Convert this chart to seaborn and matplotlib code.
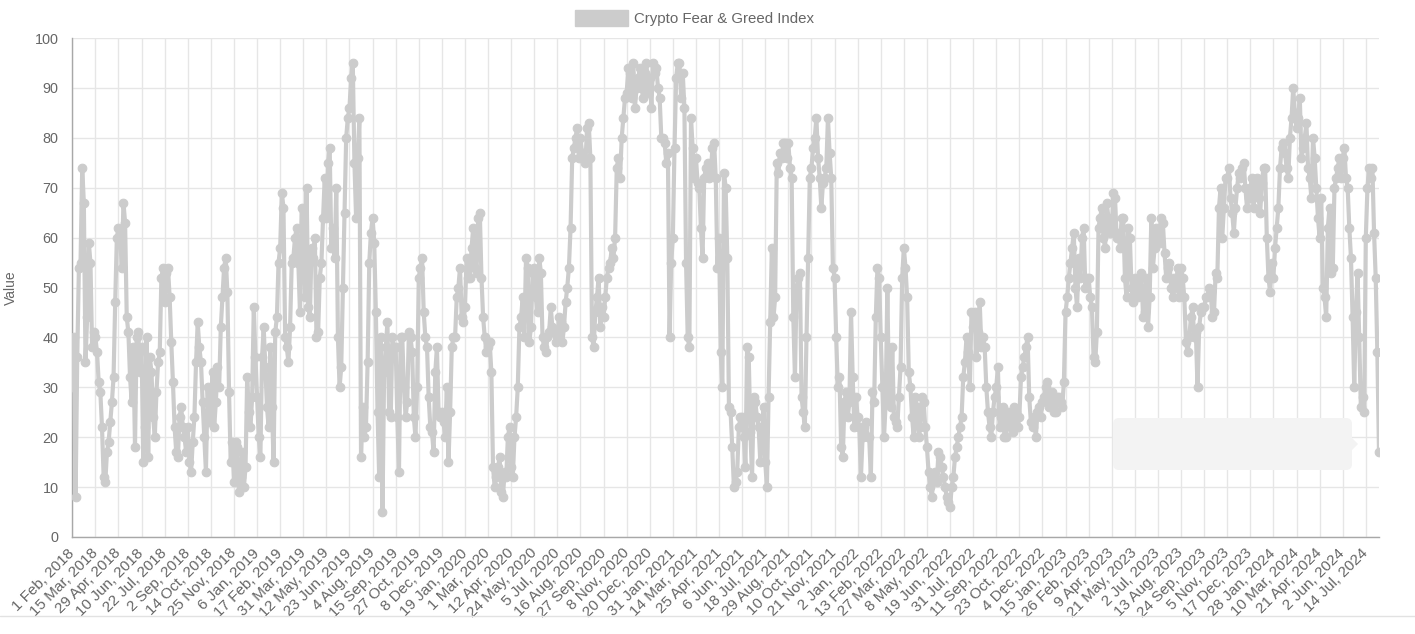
import numpy as np
import pandas as pd
import seaborn as sns
import matplotlib
matplotlib.use("Agg")
import matplotlib.pyplot as plt
from matplotlib.patches import FancyBboxPatch, Polygon, Patch
from matplotlib.lines import Line2D
from matplotlib.transforms import IdentityTransform

# rótulos do eixo x (um a cada 42 pontos diários)
tick_labels = [
    "1 Feb, 2018", "15 Mar, 2018", "29 Apr, 2018", "10 Jun, 2018", "22 Jul, 2018",
    "2 Sep, 2018", "14 Oct, 2018", "25 Nov, 2018", "6 Jan, 2019", "17 Feb, 2019",
    "31 Mar, 2019", "12 May, 2019", "23 Jun, 2019", "4 Aug, 2019", "15 Sep, 2019",
    "27 Oct, 2019", "8 Dec, 2019", "19 Jan, 2020", "1 Mar, 2020", "12 Apr, 2020",
    "24 May, 2020", "5 Jul, 2020", "16 Aug, 2020", "27 Sep, 2020", "8 Nov, 2020",
    "20 Dec, 2020", "31 Jan, 2021", "14 Mar, 2021", "25 Apr, 2021", "6 Jun, 2021",
    "18 Jul, 2021", "29 Aug, 2021", "10 Oct, 2021", "21 Nov, 2021", "2 Jan, 2022",
    "13 Feb, 2022", "27 Mar, 2022", "8 May, 2022", "19 Jun, 2022", "31 Jul, 2022",
    "11 Sep, 2022", "23 Oct, 2022", "4 Dec, 2022", "15 Jan, 2023", "26 Feb, 2023",
    "9 Apr, 2023", "21 May, 2023", "2 Jul, 2023", "13 Aug, 2023", "24 Sep, 2023",
    "5 Nov, 2023", "17 Dec, 2023", "28 Jan, 2024", "10 Mar, 2024", "21 Apr, 2024",
    "2 Jun, 2024", "14 Jul, 2024",
]

# valores, um a cada 3 dias (14 por intervalo de rótulo)
fg_2018 = [30, 40, 8, 36, 54, 55, 74, 67, 35, 44, 59, 55, 38, 41,
           40, 37, 31, 29, 22, 12, 11, 17, 19, 23, 27, 32, 47, 60,
           62, 60, 54, 67, 63, 44, 41, 32, 27, 38, 18, 40, 41, 33,
           38, 15, 22, 40, 16, 36, 33, 24, 20, 29, 35, 37, 52, 54,
           47, 53, 54, 48, 39, 31, 22, 17, 16, 24, 26, 22, 20, 17,
           22, 15, 13, 19, 24, 35, 43, 38, 35, 27, 20, 13, 30, 23,
           25, 33, 22, 27, 34, 30, 42, 48, 54, 56, 49, 29, 15, 19,
           11, 19, 18, 9, 12, 17, 10, 14, 32, 25, 22, 28, 46, 36]
fg_2019 = [28, 20, 16, 36, 42, 34, 26, 22, 38, 26, 15, 41, 44, 55,
           58, 69, 66, 40, 38, 35, 42, 55, 56, 60, 62, 55, 45, 66,
           62, 48, 70, 46, 44, 58, 56, 60, 40, 41, 52, 55, 64, 72,
           64, 75, 78, 58, 62, 56, 70, 40, 30, 34, 50, 65, 80, 84,
           86, 92, 95, 75, 64, 76, 84, 16, 26, 20, 22, 35, 55, 61,
           64, 59, 45, 25, 12, 40, 5, 33, 38, 43, 25, 24, 40, 38,
           38, 24, 13, 40, 40, 30, 24, 27, 41, 40, 37, 24, 20, 30,
           52, 54, 56, 45, 40, 38, 28, 22, 21, 17, 33, 38, 25, 24,
           25, 23, 20, 30, 15, 25, 38, 40, 40, 48, 50, 54, 44, 43]
fg_2020 = [46, 56, 52, 52, 58, 62, 54, 53, 64, 65, 52, 44, 40, 37,
           38, 39, 33, 14, 10, 12, 14, 16, 9, 8, 13, 12, 20, 22,
           14, 12, 20, 24, 30, 42, 44, 48, 40, 56, 54, 39, 42, 53,
           54, 48, 45, 56, 53, 40, 38, 37, 40, 41, 46, 42, 41, 39,
           40, 44, 43, 39, 42, 47, 50, 54, 62, 76, 78, 80, 82, 76,
           80, 77, 76, 75, 82, 83, 76, 40, 38, 45, 48, 52, 42, 46,
           44, 48, 52, 54, 55, 58, 56, 60, 74, 76, 72, 80, 84, 88,
           89, 94, 93, 88, 95, 86, 90, 92, 94, 90, 88, 93, 95, 89,
           92, 86, 95, 93, 94, 90, 88, 80, 80, 79, 75, 77, 40, 55]
fg_2021 = [60, 78, 92, 95, 95, 88, 93, 86, 55, 40, 38, 84, 78, 72,
           76, 71, 70, 62, 56, 72, 74, 75, 72, 73, 78, 79, 72, 54,
           60, 37, 30, 73, 70, 56, 26, 25, 18, 10, 11, 13, 22, 24,
           24, 20, 14, 38, 36, 21, 12, 28, 27, 24, 22, 15, 20, 26,
           15, 10, 28, 43, 58, 44, 48, 75, 73, 77, 76, 79, 79, 76,
           79, 74, 72, 44, 32, 50, 52, 53, 28, 25, 22, 40, 56, 72,
           74, 78, 80, 84, 76, 72, 66, 71, 72, 74, 84, 77, 72, 54,
           52, 40, 30, 32, 18, 16, 27, 29, 24, 27, 45, 32, 22, 28]
fg_2022 = [24, 22, 12, 20, 22, 23, 20, 20, 12, 29, 27, 44, 54, 52,
           40, 30, 20, 27, 50, 28, 26, 38, 24, 23, 22, 28, 34, 52,
           58, 54, 48, 33, 30, 24, 20, 28, 26, 20, 22, 28, 27, 22,
           18, 13, 10, 8, 12, 13, 11, 17, 16, 14, 12, 10, 8, 7,
           6, 10, 12, 16, 18, 20, 22, 24, 32, 35, 40, 37, 30, 45,
           42, 45, 36, 41, 47, 38, 40, 38, 30, 25, 22, 20, 25, 28,
           30, 34, 22, 24, 26, 20, 20, 25, 24, 22, 21, 26, 25, 22,
           24, 32, 34, 36, 38, 40, 28, 23, 22, 24, 20, 25, 26, 24,
           27, 28, 30, 31, 26, 27, 29, 25, 25, 28, 28, 27, 26, 31]
fg_2023 = [45, 48, 52, 55, 58, 61, 50, 46, 56, 52, 60, 62, 50, 52,
           52, 48, 46, 36, 35, 41, 62, 64, 66, 60, 58, 67, 64, 61,
           62, 69, 68, 60, 61, 58, 64, 64, 52, 48, 62, 60, 50, 47,
           52, 50, 48, 52, 53, 44, 45, 52, 42, 48, 64, 54, 58, 62,
           60, 59, 64, 63, 57, 52, 54, 55, 50, 48, 52, 50, 54, 48,
           54, 52, 48, 39, 37, 40, 44, 46, 40, 41, 30, 42, 45, 46,
           46, 48, 48, 50, 49, 44, 45, 53, 52, 66, 70, 60, 66, 72,
           72, 74, 68, 65, 61, 66, 70, 73, 72, 74, 75, 70, 66, 68,
           70, 72, 66, 70, 72, 68, 65, 71, 74, 74, 60, 52, 49, 55]
fg_2024 = [52, 58, 62, 66, 74, 78, 79, 77, 74, 72, 80, 84, 90, 85,
           82, 84, 88, 76, 78, 80, 83, 74, 72, 68, 80, 76, 70, 64,
           60, 68, 50, 48, 44, 62, 66, 53, 54, 70, 72, 74, 76, 72,
           76, 78, 72, 70, 62, 56, 44, 30, 45, 53, 40, 26, 28, 25,
           60, 70, 74, 72, 74, 61, 52, 37, 17]

passo = 3
intervalo_rotulo = 42

valores = fg_2018 + fg_2019 + fg_2020 + fg_2021 + fg_2022 + fg_2023 + fg_2024
df = pd.DataFrame({"dia": np.arange(len(valores)) * passo, "Value": valores})

sns.set_theme(style="white")
plt.rcParams["font.family"] = ["Liberation Sans", "DejaVu Sans"]

W, H = 1415, 634
fig = plt.figure(figsize=(W / 100, H / 100), dpi=100)
x0, x1, y0, y1 = 72.3, 1379, 38, 537
ax = fig.add_axes([x0 / W, 1 - y1 / H, (x1 - x0) / W, (y1 - y0) / H])

cor = "#cccccc"
sns.lineplot(data=df, x="dia", y="Value", ax=ax, color=cor, linewidth=3.0,
             marker="o", markersize=6.2, markeredgecolor=cor, markeredgewidth=0.8,
             legend=False, zorder=3)

ax.set_xlim(0, df["dia"].max())
ax.set_ylim(0, 100)
ax.set_yticks(np.arange(0, 101, 10))
ax.set_xticks(np.arange(len(tick_labels)) * intervalo_rotulo)
ax.set_xticklabels(tick_labels, rotation=45, ha="right", va="center",
                   rotation_mode="anchor")
ax.grid(True, color="#e6e6e6", linewidth=1)
ax.set_axisbelow(True)
for lado in ["top", "right"]:
    ax.spines[lado].set_visible(False)
for lado in ["left", "bottom"]:
    ax.spines[lado].set_color("#a8a8a8")
    ax.spines[lado].set_linewidth(1)
ax.tick_params(axis="both", length=7, width=1, color="#e6e6e6",
               labelcolor="#666666", labelsize=10.4)
ax.tick_params(axis="x", pad=3, labelsize=11)
ax.tick_params(axis="y", pad=3)
ax.set_xlabel("")
ax.set_ylabel("Value", color="#666666", fontsize=10)
ax.yaxis.set_label_coords(-0.0416, 0.5)

# legenda
fig.legend(handles=[Patch(facecolor=cor, edgecolor=cor, label="Crypto Fear & Greed Index")],
           loc="center", bbox_to_anchor=(694.5 / W, 1 - 18 / H), frameon=False,
           handlelength=3.5, handleheight=1.2, handletextpad=0.4,
           fontsize=10.8, labelcolor="#666666")

# caixa de tooltip esmaecida
caixa = FancyBboxPatch((1113, H - 470), 239, 52, boxstyle="round,pad=0,rounding_size=6",
                       transform=IdentityTransform(), fc="#f3f3f3", ec="none", zorder=1)
fig.add_artist(caixa)
seta = Polygon([(1352, H - 438), (1358, H - 444), (1352, H - 450)], closed=True,
               transform=IdentityTransform(), fc="#f3f3f3", ec="none")
fig.add_artist(seta)

# linha da página no rodapé
fig.add_artist(Line2D([0, 1], [1 - 616 / H, 1 - 616 / H], transform=fig.transFigure,
                      color="#e2e2e2", linewidth=1))

fig.savefig("out.png", dpi=100)
